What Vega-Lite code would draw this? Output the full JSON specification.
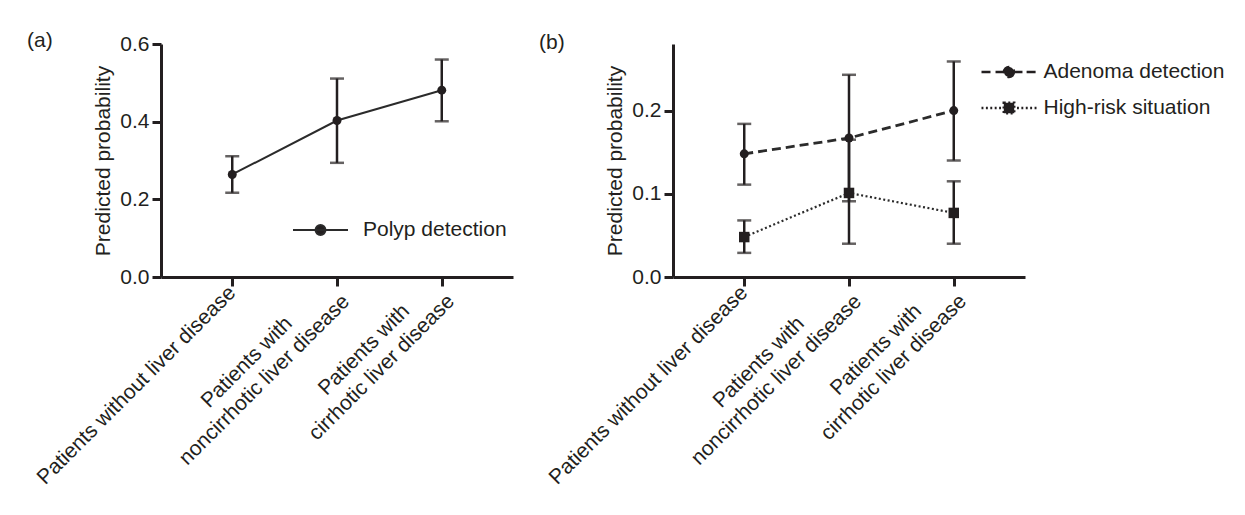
{
  "$schema": "https://vega.github.io/schema/vega-lite/v6.json",
  "padding": {"left": 27, "top": 30, "right": 0, "bottom": 0},
  "background": "white",
  "datasets": {
    "a": [
      {"group": "without", "series": "Polyp detection", "p": 0.264, "lo": 0.217, "hi": 0.311},
      {"group": "noncirrhotic", "series": "Polyp detection", "p": 0.403, "lo": 0.294, "hi": 0.511},
      {"group": "cirrhotic", "series": "Polyp detection", "p": 0.481, "lo": 0.401, "hi": 0.560}
    ],
    "b": [
      {"group": "without", "series": "Adenoma detection", "p": 0.148, "lo": 0.111, "hi": 0.184},
      {"group": "noncirrhotic", "series": "Adenoma detection", "p": 0.167, "lo": 0.091, "hi": 0.243},
      {"group": "cirrhotic", "series": "Adenoma detection", "p": 0.200, "lo": 0.140, "hi": 0.259},
      {"group": "without", "series": "High-risk situation", "p": 0.048, "lo": 0.029, "hi": 0.068},
      {"group": "noncirrhotic", "series": "High-risk situation", "p": 0.101, "lo": 0.040, "hi": 0.165},
      {"group": "cirrhotic", "series": "High-risk situation", "p": 0.077, "lo": 0.040, "hi": 0.115}
    ]
  },
  "spacing": 26,
  "resolve": {
    "scale": {"x": "independent", "y": "independent", "color": "independent", "strokeDash": "independent"},
    "legend": {"color": "independent", "strokeDash": "independent"}
  },
  "hconcat": [
    {
      "width": 352,
      "height": 233,
      "title": {"text": "(a)", "anchor": "start", "frame": "group", "dx": -134, "dy": 29, "offset": 0, "baseline": "middle", "fontSize": 21, "fontWeight": "normal", "color": "#231f20"},
      "data": {"name": "a"},
      "encoding": {
        "x": {
          "field": "group", "type": "nominal",
          "sort": ["without", "noncirrhotic", "cirrhotic"],
          "scale": {"type": "point", "padding": 0.68},
          "axis": {
            "title": null, "labelAngle": -45, "labelAlign": "center", "labelBaseline": "middle",
            "labelLimit": 600, "labelLineHeight": 25, "labelOverlap": false,
            "labelOffset": {"condition": [{"test": "datum.value == 'without'", "value": -96}, {"test": "datum.value == 'noncirrhotic'", "value": -90.5}], "value": -78},
            "labelPadding": {"condition": [{"test": "datum.value == 'without'", "value": 99}, {"test": "datum.value == 'noncirrhotic'", "value": 76}], "value": 63.5},
            "labelExpr": "datum.value == 'without' ? 'Patients without liver disease' : datum.value == 'noncirrhotic' ? ['Patients with', 'noncirrhotic liver disease'] : ['Patients with', 'cirrhotic liver disease']"
          }
        }
      },
      "layer": [
        {
          "mark": {"type": "errorbar", "ticks": true, "thickness": 2.5, "color": "#231f20", "size": 14},
          "encoding": {
            "y": {"field": "lo", "type": "quantitative", "scale": {"domain": [0, 0.6]},
              "axis": {"title": "Predicted probability", "values": [0, 0.2, 0.4, 0.6], "format": ".1f", "labelPadding": 3, "titlePadding": 6}},
            "y2": {"field": "hi"}
          }
        },
        {
          "mark": {"type": "line", "strokeWidth": 2},
          "encoding": {
            "y": {"field": "p", "type": "quantitative"},
            "color": {"field": "series", "type": "nominal", "scale": {"range": ["#2b2b2b"]},
              "legend": {
                "title": null, "orient": "none", "legendX": 131, "legendY": 174, "clipHeight": 24,
                "symbolType": "M-1,0L1,0M0.18,0A0.18,0.18,0,1,1,-0.18,0A0.18,0.18,0,1,1,0.18,0Z",
                "symbolSize": 3025, "symbolStrokeWidth": 2, "symbolFillColor": "#231f20", "symbolStrokeColor": "#231f20",
                "labelOffset": 14, "labelFontSize": 21, "labelColor": "#231f20", "labelLimit": 400,
                "encode": {"symbols": {"update": {"fill": {"value": "#231f20"}, "stroke": {"value": "#231f20"}, "shape": {"value": "M-1,0L1,0M0.18,0A0.18,0.18,0,1,1,-0.18,0A0.18,0.18,0,1,1,0.18,0Z"}}}}
              }
            }
          }
        },
        {
          "mark": {"type": "point", "filled": true, "size": 80, "opacity": 1, "color": "#231f20"},
          "encoding": {"y": {"field": "p", "type": "quantitative"}}
        }
      ]
    },
    {
      "width": 352,
      "height": 233,
      "title": {"text": "(b)", "anchor": "start", "frame": "group", "dx": -134, "dy": 20, "offset": 0, "baseline": "middle", "fontSize": 21, "fontWeight": "normal", "color": "#231f20"},
      "data": {"name": "b"},
      "encoding": {
        "x": {
          "field": "group", "type": "nominal",
          "sort": ["without", "noncirrhotic", "cirrhotic"],
          "scale": {"type": "point", "padding": 0.68},
          "axis": {
            "title": null, "labelAngle": -45, "labelAlign": "center", "labelBaseline": "middle",
            "labelLimit": 600, "labelLineHeight": 25, "labelOverlap": false,
            "labelOffset": {"condition": [{"test": "datum.value == 'without'", "value": -96}, {"test": "datum.value == 'noncirrhotic'", "value": -90.5}], "value": -78},
            "labelPadding": {"condition": [{"test": "datum.value == 'without'", "value": 99}, {"test": "datum.value == 'noncirrhotic'", "value": 76}], "value": 63.5},
            "labelExpr": "datum.value == 'without' ? 'Patients without liver disease' : datum.value == 'noncirrhotic' ? ['Patients with', 'noncirrhotic liver disease'] : ['Patients with', 'cirrhotic liver disease']"
          }
        }
      },
      "layer": [
        {
          "mark": {"type": "errorbar", "ticks": true, "thickness": 2.5, "color": "#231f20", "size": 14},
          "encoding": {
            "y": {"field": "lo", "type": "quantitative", "scale": {"domain": [0, 0.274]},
              "axis": {"title": "Predicted probability", "values": [0, 0.1, 0.2], "format": ".1f", "labelPadding": 3, "titlePadding": 6}},
            "y2": {"field": "hi"}
          }
        },
        {
          "mark": {"type": "line", "color": "#2b2b2b"},
          "encoding": {
            "y": {"field": "p", "type": "quantitative"},
            "strokeWidth": {"field": "series", "type": "ordinal", "scale": {"domain": ["Adenoma detection", "High-risk situation"], "range": [2.8, 2.2]}, "legend": null},
            "strokeDash": {"field": "series", "type": "nominal",
              "scale": {"domain": ["Adenoma detection", "High-risk situation"], "range": [[9, 5], [2, 2.5]]},
              "legend": {
                "title": null, "orient": "none", "legendX": 307, "legendY": 16, "clipHeight": 24,
                "symbolSize": 3025, "symbolStrokeWidth": 2.5, "symbolFillColor": "#231f20", "symbolStrokeColor": "#231f20",
                "labelOffset": 5.5, "labelFontSize": 21, "labelColor": "#231f20", "labelLimit": 400, "rowPadding": 12,
                "encode": {"symbols": {"update": {
                  "fill": {"value": "#231f20"}, "stroke": {"value": "#231f20"},
                  "strokeDash": {"value": [1, 0]},
                  "shape": {"signal": "datum.value == 'Adenoma detection' ? 'M-1,0L-0.64,0M-0.49,0L-0.2,0M0.2,0L0.49,0M0.64,0L1,0M0.18,0A0.18,0.18,0,1,1,-0.18,0A0.18,0.18,0,1,1,0.18,0Z' : 'M-1,0L-0.93,0M-0.84,0L-0.77,0M-0.68,0L-0.61,0M-0.52,0L-0.45,0M-0.36,0L-0.29,0M0.29,0L0.36,0M0.45,0L0.52,0M0.61,0L0.68,0M0.77,0L0.84,0M0.93,0L1,0M-0.19,-0.19L0.19,-0.19L0.19,0.19L-0.19,0.19Z'"}
                }}}
              }
            }
          }
        },
        {
          "transform": [{"filter": "datum.series == 'Adenoma detection'"}],
          "mark": {"type": "point", "filled": true, "opacity": 1, "color": "#231f20", "shape": "circle", "size": 80},
          "encoding": {"y": {"field": "p", "type": "quantitative"}}
        },
        {
          "transform": [{"filter": "datum.series == 'High-risk situation'"}],
          "mark": {"type": "point", "filled": true, "opacity": 1, "color": "#231f20", "shape": "square", "size": 110},
          "encoding": {"y": {"field": "p", "type": "quantitative"}}
        }
      ]
    }
  ],
  "config": {
    "font": "Liberation Sans",
    "view": {"stroke": null},
    "axis": {
      "domainColor": "#231f20", "domainWidth": 3, "tickColor": "#231f20", "tickWidth": 3, "tickSize": 9,
      "labelFontSize": 21, "labelColor": "#231f20", "labelFont": "Liberation Sans",
      "titleFontSize": 21, "titleFontWeight": "normal", "titleColor": "#231f20", "titleFont": "Liberation Sans",
      "grid": false
    },
    "legend": {"labelFont": "Liberation Sans"}
  }
}
